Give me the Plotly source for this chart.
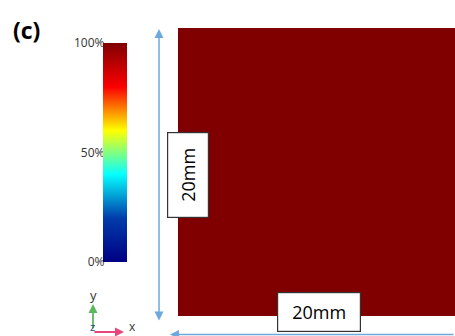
import plotly.graph_objects as go

# ---- data ----
field_x_mm = [0, 20]          # square edges (mm)
field_y_mm = [0, 20]
field_pct = [[100]]           # uniform field value (%)
cbar_tickvals = [0, 50, 100]
cbar_ticktext = ["0%", "50%", "100%"]
cbar_minor_ticks = [10, 20, 30, 40, 60, 70, 80, 90]
dim_label = "20mm"
panel_label = "(c)"

W, H = 455, 336
def px(x): return x / W
def py(y): return (H - y) / H

fig = go.Figure()

fig.add_trace(go.Heatmap(
    z=field_pct, x=field_x_mm, y=field_y_mm,
    colorscale="Jet", zmin=0, zmax=100, hoverinfo="skip",
    colorbar=dict(
        x=px(103), xanchor="left", y=py(152.5), yanchor="middle",
        thicknessmode="pixels", thickness=24, lenmode="pixels", len=219,
        outlinewidth=0, xpad=0, ypad=0, showticklabels=False, ticks="",
    ),
))
# invisible trace to hold the colorbar label axis
fig.add_trace(go.Scatter(x=[None], y=[None], yaxis="y2", showlegend=False, hoverinfo="skip"))

fig.update_layout(
    width=W, height=H, margin=dict(l=0, r=0, t=0, b=0, autoexpand=False),
    paper_bgcolor="white", plot_bgcolor="rgba(0,0,0,0)", showlegend=False,
    xaxis=dict(domain=[px(178), 1], range=[0, 20 * 277 / 288], visible=False, fixedrange=True),
    yaxis=dict(domain=[py(316), py(28)], range=[0, 20], visible=False, fixedrange=True),
    yaxis2=dict(anchor="free", position=px(104.5), side="left",
                domain=[py(262), py(43)], range=[0, 100],
                tickvals=cbar_tickvals, ticktext=cbar_ticktext, ticks="",
                showgrid=False, zeroline=False, showline=False, fixedrange=True,
                tickfont=dict(family="Open Sans", size=12, color="#333")),
    font=dict(family="Open Sans"),
)

# small tick marks on left edge of colorbar
fig.add_trace(go.Scatter(x=[None], y=[None], yaxis="y3", showlegend=False, hoverinfo="skip"))
fig.update_layout(yaxis3=dict(anchor="free", position=px(103), side="left",
                              domain=[py(262), py(43)], range=[0, 100],
                              tickvals=cbar_minor_ticks, ticks="inside", ticklen=3,
                              tickcolor="#555", tickwidth=1, showticklabels=False,
                              showgrid=False, zeroline=False, showline=False, fixedrange=True))

C = dict(xref="paper", yref="paper", xanchor="center", yanchor="middle")
ann = []
# panel label
ann.append(dict(x=px(26), y=py(30), text="<b>" + panel_label + "</b>",
                showarrow=False, font=dict(size=23, color="black", family="Open Sans"), **C))
blue = "#6FA8DC"
# vertical dimension arrow
ann.append(dict(x=px(159), y=py(29), ax=0, ay=293,
                axref="pixel", ayref="pixel", text="", showarrow=True, arrowside="end+start",
                arrowhead=2, arrowsize=1.2, arrowwidth=1.5, arrowcolor=blue, standoff=0, startstandoff=0, **C))
# horizontal dimension arrow
ann.append(dict(x=px(170), y=py(334.5), ax=320, ay=0,
                axref="pixel", ayref="pixel", text="", showarrow=True,
                arrowhead=2, arrowsize=1.2, arrowwidth=1.5, arrowcolor=blue, standoff=0, **C))
# dimension boxes
ann.append(dict(x=px(187.5), y=py(175.5), text=dim_label, textangle=-90,
                showarrow=False, bgcolor="white", bordercolor="#333", borderwidth=1.2, borderpad=0,
                width=84, height=40, font=dict(size=18, color="black", family="Open Sans"), **C))
ann.append(dict(x=px(319), y=py(312), text=dim_label,
                showarrow=False, bgcolor="white", bordercolor="#333", borderwidth=1.2, borderpad=0,
                width=82, height=38, font=dict(size=18, color="black", family="Open Sans"), **C))
# axis triad
ann.append(dict(x=px(93), y=py(304), ax=0, ay=26,
                axref="pixel", ayref="pixel", text="", showarrow=True,
                arrowhead=2, arrowsize=1, arrowwidth=1.8, arrowcolor="#5CB85C", standoff=0, **C))
ann.append(dict(x=px(124), y=py(332), ax=-31, ay=0,
                axref="pixel", ayref="pixel", text="", showarrow=True,
                arrowhead=2, arrowsize=1, arrowwidth=1.8, arrowcolor="#E8457A", standoff=0, **C))
ann.append(dict(x=px(93), y=py(295), text="y", showarrow=False,
                font=dict(size=13, color="#333"), **C))
ann.append(dict(x=px(132), y=py(326), text="x", showarrow=False,
                font=dict(size=12, color="#333"), **C))
ann.append(dict(x=px(92), y=py(326), text="z", showarrow=False,
                font=dict(size=11, color="#2E4A7A"), **C))
fig.update_layout(annotations=ann)

fig.write_html("out.html", config={"displayModeBar": False},
               post_script="document.body.style.margin='0';document.body.style.overflow='hidden';")
